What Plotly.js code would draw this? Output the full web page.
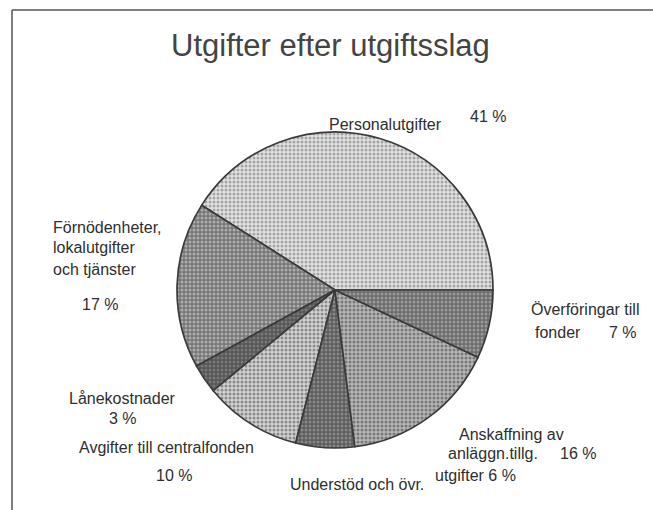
<!DOCTYPE html>
<html>
<head>
<meta charset="utf-8">
<script src="https://cdn.plot.ly/plotly-3.0.1.min.js"></script>
<style>html,body{margin:0;padding:0;background:#fff;}#chart{width:653px;height:510px;}</style>
</head>
<body>
<div id="chart"></div>
<script>
// ---- data ----
const categories = [
  "Personalutgifter",
  "Förnödenheter, lokalutgifter och tjänster",
  "Lånekostnader",
  "Avgifter till centralfonden",
  "Understöd och övr. utgifter",
  "Anskaffning av anläggn.tillg.",
  "Överföringar till fonder"
];
const values = [41, 17, 3, 10, 6, 16, 7];
const titleText = "Utgifter efter utgiftsslag";

// ---- styles ----
const W = 653, H = 510;
const sliceBg = ["#e2e2e2", "#767676", "#565656", "#d2d2d2", "#5c5c5c", "#b6b6b6", "#6c6c6c"];
const sliceFg = ["#a4a4a4", "#acacac", "#787878", "#8a8a8a", "#888888", "#787878", "#9a9a9a"];
const textColor = "#2e2e2e";
const fontFam = "Liberation Sans, Arial, sans-serif";

const pct = v => v + " %";
const px = x => x / W;
const py = y => 1 - y / H;

// label pieces: [text, x, y, xanchor]
const labelPieces = [
  [categories[0], 386, 124, "center"],
  [pct(values[0]), 488, 117, "center"],
  ["Förnödenheter,", 51, 227, "left"],
  ["lokalutgifter", 51, 247, "left"],
  ["och tjänster", 51, 269, "left"],
  [pct(values[1]), 100, 304, "center"],
  [categories[2], 122, 398, "center"],
  [pct(values[2]), 123, 418, "center"],
  [categories[3], 77, 447, "left"],
  [pct(values[3]), 174, 475, "center"],
  ["Understöd och övr.", 357, 484, "center"],
  ["utgifter " + pct(values[4]), 518, 475, "right"],
  ["Anskaffning av", 511, 434, "center"],
  ["anläggn.tillg.", 493, 453, "center"],
  [pct(values[5]), 578, 453, "center"],
  ["Överföringar till", 585, 309, "center"],
  ["fonder", 558, 332, "center"],
  [pct(values[6]), 623, 332, "center"]
];

const cx = 335, cy = 290, r = 158;
const total = values.reduce((a, b) => a + b, 0);

const trace = {
  type: "pie",
  labels: categories,
  values: values,
  sort: false,
  direction: "counterclockwise",
  // first slice starts at 3 o'clock and runs counterclockwise
  rotation: 90 - values[0] / total * 360,
  textinfo: "none",
  hoverinfo: "label+percent",
  showlegend: false,
  domain: {x: [px(cx - r), px(cx + r)], y: [py(cy + r), py(cy - r)]},
  marker: {
    colors: sliceBg,
    line: {color: "#3a3a3a", width: 1.7},
    pattern: {shape: ".", fgcolor: sliceFg, bgcolor: sliceBg, size: 4, solidity: 0.45}
  }
};

const annotations = labelPieces.map(p => ({
  text: p[0], x: px(p[1]), y: py(p[2]), xref: "paper", yref: "paper",
  xanchor: p[3], yanchor: "middle", showarrow: false,
  font: {family: fontFam, size: 16, color: textColor}
}));
annotations.push({
  text: titleText, x: px(330), y: py(45), xref: "paper", yref: "paper",
  xanchor: "center", yanchor: "middle", showarrow: false,
  font: {family: fontFam, size: 31, color: "#444"}
});

const layout = {
  width: W, height: H,
  margin: {l: 0, r: 0, t: 0, b: 0},
  paper_bgcolor: "#ffffff",
  annotations: annotations,
  shapes: [
    {type: "line", xref: "paper", yref: "paper", x0: px(12), x1: 1, y0: py(10), y1: py(10), line: {color: "#555", width: 1.5}},
    {type: "line", xref: "paper", yref: "paper", x0: px(12), x1: px(12), y0: py(10), y1: 0, line: {color: "#555", width: 1.5}}
  ]
};

Plotly.newPlot("chart", [trace], layout, {displayModeBar: false, staticPlot: true});
</script>
</body>
</html>
